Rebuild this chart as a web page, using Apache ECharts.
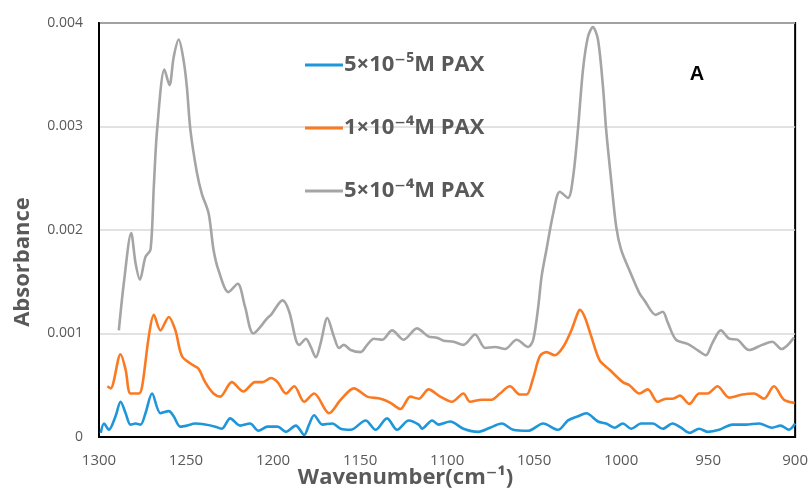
<!DOCTYPE html>
<html>
<head>
<meta charset="utf-8">
<script src="https://cdn.jsdelivr.net/npm/echarts@6/dist/echarts.min.js"></script>
<style>
  html, body { margin: 0; padding: 0; background: #fff; }
  #chart { width: 811px; height: 491px; }
</style>
</head>
<body>
<div id="chart"></div>
<script>
// FTIR absorbance spectra of PAX at three concentrations
const seriesNames = ['5×10⁻⁵M PAX', '1×10⁻⁴M PAX', '5×10⁻⁴M PAX'];
const seriesColors = ['#1f96d9', '#fb7a21', '#a5a5a5'];

const xTicks = [1300, 1250, 1200, 1150, 1100, 1050, 1000, 950, 900];
const yTicks = ['0', '0.001', '0.002', '0.003', '0.004'];

// 5×10⁻⁵ M
const waveLow = [1299, 1297.1, 1294.3, 1290.5, 1287.6, 1284.7, 1281.9, 1279, 1276.1, 1273.3, 1269.5, 1264.7,
  1259.9, 1257.1, 1253.3, 1249.5, 1244.7, 1239, 1233.2, 1229.4, 1224.6, 1218.9, 1213.2, 1208.4, 1203.1,
  1197.4, 1192.6, 1186.9, 1182.1, 1179.3, 1176.4, 1171.6, 1166, 1161.1, 1155.4, 1146.8, 1141.1, 1134.5,
  1128.7, 1122, 1116.3, 1114.4, 1108.6, 1104.9, 1098.2, 1090.6, 1082, 1075.3, 1068.6, 1062, 1053.4, 1044.8,
  1036.2, 1030.5, 1024.8, 1020, 1013.3, 1008.6, 1003.8, 999, 994.2, 988.5, 981.8, 976.1, 970.4, 965.6,
  960.8, 955.1, 950.3, 943.6, 936, 928.4, 920.8, 913.2, 908.4, 903.6, 900];
const absLow = [0.00004, 0.00013, 0.00007, 0.00020, 0.00034, 0.00023, 0.00012, 0.00013, 0.00012, 0.00023, 0.00042, 0.00023,
  0.00025, 0.00020, 0.00010, 0.00011, 0.00013, 0.00012, 0.00010, 0.00008, 0.00018, 0.00011, 0.00013, 0.00006, 0.00010,
  0.00010, 0.00005, 0.00011, 0.00002, 0.00012, 0.00021, 0.00012, 0.00013, 0.00008, 0.00007, 0.00016, 0.00007, 0.00018,
  0.00007, 0.00016, 0.00012, 0.00008, 0.00016, 0.00012, 0.00015, 0.00008, 0.00005, 0.00009, 0.00013, 0.00007, 0.00006, 0.00013,
  0.00007, 0.00016, 0.00020, 0.00023, 0.00015, 0.00013, 0.00009, 0.00013, 0.00008, 0.00013, 0.00013, 0.00008, 0.00013, 0.00009,
  0.00004, 0.00008, 0.00005, 0.00007, 0.00012, 0.00012, 0.00013, 0.00009, 0.00011, 0.00007, 0.00013];

// 1×10⁻⁴ M
const waveMid = [1295.2, 1293.3, 1287.6, 1284.7, 1281.9, 1277.1, 1275.2, 1271.4, 1268.5, 1264.7, 1259.9, 1256.1,
  1252.3, 1246.6, 1242.8, 1239, 1234.2, 1230.4, 1223.7, 1217, 1210.3, 1206, 1201.2, 1197.4, 1192.6, 1187.8,
  1182.1, 1176.4, 1167.8, 1161.1, 1153.5, 1145.9, 1138.2, 1132.5, 1126.8, 1121.1, 1116.3, 1110.6, 1103.9,
  1097.2, 1090.6, 1086.8, 1080.1, 1074.4, 1069.6, 1063.9, 1058.1, 1054.3, 1050.5, 1046.7, 1042.9, 1038.1,
  1033.3, 1028.6, 1025.1, 1023.8, 1020.9, 1017.1, 1012.3, 1006.6, 999, 995.2, 989.5, 984.7, 979, 974.2,
  970.4, 966.2, 960.8, 955.1, 950.3, 944.6, 937.9, 930.3, 923.6, 917.9, 912.2, 906.4, 900.3];
const absMid = [0.00049, 0.00047, 0.00080, 0.00065, 0.00042, 0.00042, 0.00049, 0.00097, 0.00118, 0.00103, 0.00116, 0.00103,
  0.00078, 0.00070, 0.00066, 0.00053, 0.00042, 0.00039, 0.00053, 0.00044, 0.00053, 0.00053, 0.00057, 0.00053, 0.00042, 0.00049,
  0.00034, 0.00042, 0.00023, 0.00036, 0.00047, 0.00039, 0.00037, 0.00033, 0.00027, 0.00039, 0.00037, 0.00046, 0.00039,
  0.00034, 0.00042, 0.00034, 0.00036, 0.00036, 0.00042, 0.00049, 0.00041, 0.00041, 0.00057, 0.00078, 0.00082, 0.00079,
  0.00087, 0.00103, 0.00119, 0.00123, 0.00116, 0.00097, 0.00074, 0.00065, 0.00053, 0.00050, 0.00042, 0.00046, 0.00034, 0.00037,
  0.00037, 0.00040, 0.00032, 0.00042, 0.00042, 0.00049, 0.00038, 0.00041, 0.00042, 0.00037, 0.00049, 0.00036, 0.00033];

// 5×10⁻⁴ M
const waveHigh = [1288.6, 1285.7, 1281.5, 1279, 1276.5, 1273.3, 1270.4, 1268.5, 1266.6, 1262.4, 1259.5, 1257.1,
  1254.2, 1251.4, 1249.5, 1247.5, 1243.7, 1240.9, 1237, 1234.2, 1231.3, 1225.6, 1220.3, 1216.1, 1211.3,
  1203.1, 1201.2, 1194.5, 1190.7, 1186.9, 1185, 1181.1, 1178.3, 1175.4, 1172.6, 1168.8, 1165, 1162.1, 1159.3,
  1155.4, 1149.7, 1145.9, 1142.1, 1137.3, 1131.6, 1124.9, 1117.3, 1110.6, 1105.8, 1102, 1096.3, 1090.6,
  1083.9, 1078.1, 1072.4, 1066.7, 1060, 1053.4, 1050.5, 1047.6, 1045.7, 1042.9, 1039, 1035.2, 1030.5, 1027.6,
  1024.8, 1021.9, 1019, 1016.2, 1013.3, 1010.4, 1008.6, 1005.7, 1002.8, 1000, 995.2, 989.5, 986.6, 980,
  976.1, 973.3, 968.5, 961.8, 956.1, 951.3, 947.5, 942.7, 937.9, 933.2, 926.5, 918.9, 913.2, 907.8, 900.7];
const absHigh = [0.00103, 0.00149, 0.00197, 0.00168, 0.00152, 0.00174, 0.00181, 0.00242, 0.00297, 0.00355, 0.00340, 0.00367,
  0.00384, 0.00364, 0.00338, 0.00297, 0.00255, 0.00235, 0.00216, 0.00181, 0.00161, 0.00140, 0.00148, 0.00126, 0.00100,
  0.00115, 0.00118, 0.00132, 0.00121, 0.00094, 0.00089, 0.00095, 0.00087, 0.00077, 0.00091, 0.00115, 0.00097, 0.00086, 0.00089,
  0.00084, 0.00082, 0.00089, 0.00095, 0.00094, 0.00103, 0.00094, 0.00105, 0.00097, 0.00096, 0.00093, 0.00092, 0.00089,
  0.00099, 0.00086, 0.00087, 0.00085, 0.00094, 0.00087, 0.00094, 0.00126, 0.00155, 0.00181, 0.00216, 0.00237, 0.00231, 0.00251,
  0.00297, 0.00355, 0.00387, 0.00396, 0.00384, 0.00338, 0.00297, 0.00248, 0.00203, 0.00181, 0.00161, 0.00139, 0.00132, 0.00118,
  0.00121, 0.00111, 0.00094, 0.00090, 0.00084, 0.00079, 0.00091, 0.00103, 0.00095, 0.00094, 0.00084, 0.00089, 0.00092, 0.00085, 0.00096];

const pairs = (xs, ys) => xs.map((x, i) => [x, ys[i]]);
const spectra = [pairs(waveLow, absLow), pairs(waveMid, absMid), pairs(waveHigh, absHigh)];

const textColor = '#595959';
const font = '"Open Sans", "DejaVu Sans", sans-serif';

const chart = echarts.init(document.getElementById('chart'), null, { renderer: 'canvas' });
chart.setOption({
  backgroundColor: '#fff',
  animation: false,
  grid: {
    left: 99, right: 13, top: 23, bottom: 54,
    show: true, borderColor: '#000', borderWidth: 2, backgroundColor: 'transparent'
  },
  legend: {
    orient: 'vertical',
    left: 300, top: 49,
    itemGap: 41,
    itemWidth: 38, itemHeight: 3,
    icon: 'rect',
    data: seriesNames,
    textStyle: { color: textColor, fontFamily: font, fontWeight: 'bold', fontSize: 22, padding: [0, 0, 0, -4] }
  },
  xAxis: {
    type: 'value',
    inverse: true,
    min: 900, max: 1300, interval: 50,
    axisLine: { show: true, lineStyle: { color: '#000', width: 2 } },
    axisTick: { show: false },
    splitLine: { show: false },
    axisLabel: {
      color: textColor, fontFamily: font, fontSize: 15, margin: 16,
      showMinLabel: true, showMaxLabel: true,
      formatter: v => (xTicks.includes(v) ? String(v) : '')
    }
  },
  yAxis: {
    type: 'value',
    min: 0, max: 0.004, interval: 0.001,
    axisLine: { show: true, lineStyle: { color: '#000', width: 2 } },
    axisTick: { show: false },
    splitLine: { show: true, lineStyle: { color: '#d9d9d9', width: 1.5 } },
    axisLabel: {
      color: textColor, fontFamily: font, fontSize: 14, margin: 16,
      formatter: v => yTicks[Math.round(v * 1000)]
    }
  },
  graphic: [
    {
      type: 'text', left: 'center', top: 467,
      style: { text: 'Wavenumber(cm⁻¹)', fill: textColor, font: 'bold 22px ' + font }
    },
    {
      type: 'text', x: 23, y: 262, rotation: Math.PI / 2,
      style: { text: 'Absorbance', fill: textColor, font: 'bold 22px ' + font, align: 'center', verticalAlign: 'middle' }
    },
    {
      type: 'text', x: 697, y: 74,
      style: { text: 'A', fill: '#000', font: 'bold 20px "Liberation Sans", Arial, sans-serif', align: 'center', verticalAlign: 'middle' }
    }
  ],
  series: spectra.map((data, i) => ({
    name: seriesNames[i],
    type: 'line',
    data: data,
    smooth: 0.3,
    showSymbol: false,
    lineStyle: { color: seriesColors[i], width: 2.6 },
    itemStyle: { color: seriesColors[i] },
    z: 3 - i
  }))
});
</script>
</body>
</html>
